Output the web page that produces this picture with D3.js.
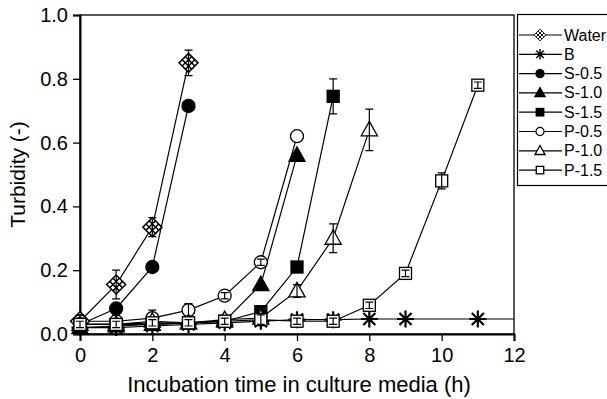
<!DOCTYPE html>
<html>
<head>
<meta charset="utf-8">
<script src="https://cdn.jsdelivr.net/npm/d3@7"></script>
<style>
  body { margin: 0; background: #fff; }
  text { font-family: "Liberation Sans", Arial, sans-serif; fill: #000; }
  .axis text { font-size: 20px; }
</style>
</head>
<body>
<svg id="chart" width="607" height="399"></svg>
<script>
// series data
const seriesNames = ['Water', 'B', 'S-0.5', 'S-1.0', 'S-1.5', 'P-0.5', 'P-1.0', 'P-1.5'];
const waterT = [0, 1, 2, 3];
const waterV = [0.04, 0.155, 0.335, 0.85];
const waterE = [0.02, 0.045, 0.03, 0.04];
const bT = [0, 1, 2, 3, 4, 5, 6, 7, 8, 9, 11, 12];
const bV = [0.02, 0.02, 0.025, 0.03, 0.035, 0.04, 0.045, 0.045, 0.047, 0.047, 0.047, 0.047];
const s05T = [0, 1, 2, 3];
const s05V = [0.03, 0.08, 0.21, 0.715];
const s10T = [0, 1, 2, 3, 4, 5, 6];
const s10V = [0.02, 0.025, 0.03, 0.035, 0.04, 0.155, 0.56];
const s15T = [0, 1, 2, 3, 4, 5, 6, 7];
const s15V = [0.03, 0.03, 0.03, 0.035, 0.04, 0.07, 0.21, 0.745];
const s15E = [0, 0, 0, 0, 0, 0.01, 0, 0.055];
const p05T = [0, 1, 2, 3, 4, 5, 6];
const p05V = [0.04, 0.04, 0.05, 0.075, 0.12, 0.225, 0.62];
const p05E = [0.01, 0.02, 0.025, 0.02, 0.01, 0.01, 0];
const p10T = [0, 1, 2, 3, 4, 5, 6, 7, 8];
const p10V = [0.03, 0.03, 0.04, 0.035, 0.045, 0.05, 0.135, 0.30, 0.64];
const p10E = [0.01, 0.01, 0.01, 0.01, 0.01, 0.015, 0.02, 0.045, 0.065];
const p15T = [0, 1, 2, 3, 4, 5, 6, 7, 8, 9, 10, 11];
const p15V = [0.03, 0.03, 0.035, 0.035, 0.04, 0.045, 0.04, 0.04, 0.09, 0.19, 0.48, 0.78];
const p15E = [0.01, 0.01, 0.01, 0.01, 0.01, 0.015, 0.01, 0.01, 0.01, 0.01, 0.025, 0.01];
const xTicks = [0, 2, 4, 6, 8, 10, 12];
const yTicks = [0.0, 0.2, 0.4, 0.6, 0.8, 1.0];

const svg = d3.select('#chart');
const margin = { left: 80, right: 93, top: 15, bottom: 65 };
const W = 607, H = 399;

const x = d3.scaleLinear().domain([0, 12]).range([margin.left, W - margin.right]);
const y = d3.scaleLinear().domain([0, 1]).range([H - margin.bottom, margin.top]);

function pack(t, v, e) {
  return t.map(function (d, i) { return { t: d, v: v[i], e: e ? e[i] : 0 }; });
}

const series = [
  { name: 'Water', marker: 'water', pts: pack(waterT, waterV, waterE) },
  { name: 'B', marker: 'star', pts: pack(bT, bV) },
  { name: 'S-0.5', marker: 'circle', fill: true, pts: pack(s05T, s05V) },
  { name: 'S-1.0', marker: 'triangle', fill: true, pts: pack(s10T, s10V) },
  { name: 'S-1.5', marker: 'square', fill: true, pts: pack(s15T, s15V, s15E) },
  { name: 'P-0.5', marker: 'circle', fill: false, pts: pack(p05T, p05V, p05E) },
  { name: 'P-1.0', marker: 'triangle', fill: false, pts: pack(p10T, p10V, p10E) },
  { name: 'P-1.5', marker: 'square', fill: false, pts: pack(p15T, p15V, p15E) }
];

// draw a marker shape into group g, scale k
function drawMarker(g, s, k) {
  const fill = s.fill ? '#000' : '#fff';
  if (s.marker === 'circle') {
    g.append('circle').attr('r', 6.5 * k).attr('fill', fill).attr('stroke', '#000').attr('stroke-width', 1.3);
  } else if (s.marker === 'triangle') {
    const r = 8.5 * k;
    g.append('path').attr('d', 'M0,' + (-r) + 'L' + (r * 0.95) + ',' + (r * 0.7) + 'L' + (-r * 0.95) + ',' + (r * 0.7) + 'Z')
      .attr('fill', fill).attr('stroke', '#000').attr('stroke-width', 1.3);
  } else if (s.marker === 'square') {
    const h = 6 * k;
    g.append('rect').attr('x', -h).attr('y', -h).attr('width', 2 * h).attr('height', 2 * h)
      .attr('fill', fill).attr('stroke', '#000').attr('stroke-width', 1.3);
  } else if (s.marker === 'star') {
    const r = 8.5 * k;
    let d = '';
    [0, 45, 90, 135].forEach(function (a) {
      const c = Math.cos(a * Math.PI / 180) * r, sn = Math.sin(a * Math.PI / 180) * r;
      d += 'M' + (-c) + ',' + (-sn) + 'L' + c + ',' + sn;
    });
    g.append('path').attr('d', d).attr('stroke', '#000').attr('stroke-width', 2.2 * k);
  } else if (s.marker === 'water') {
    // diamond split into a 3x3 lattice
    const r = 9.5 * k;
    const o = r / 6, h = r / 2;
    let d = 'M0,' + (-r) + 'L' + r + ',0L0,' + r + 'L' + (-r) + ',0Z';
    [-o, o].forEach(function (q) {
      d += 'M' + (-h + q) + ',' + (-h - q) + 'L' + (h + q) + ',' + (h - q);
      d += 'M' + (-h + q) + ',' + (h + q) + 'L' + (h + q) + ',' + (-h + q);
    });
    g.append('path').attr('d', d).attr('fill', '#fff').attr('stroke', '#000').attr('stroke-width', 1.5 * k);
  }
}

// frame
svg.append('rect').attr('x', x(0)).attr('y', y(1)).attr('width', x(12) - x(0)).attr('height', y(0) - y(1))
  .attr('fill', 'none').attr('stroke', '#000').attr('stroke-width', 1.3);

// axes
const xAxis = svg.append('g').attr('class', 'axis').attr('transform', 'translate(0,' + y(0) + ')')
  .call(d3.axisBottom(x).tickValues(xTicks).tickSize(7).tickPadding(7).tickFormat(d3.format('d')));
const yAxis = svg.append('g').attr('class', 'axis').attr('transform', 'translate(' + x(0) + ',0)')
  .call(d3.axisLeft(y).tickValues(yTicks).tickSize(7).tickPadding(5).tickFormat(d3.format('.1f')));
[xAxis, yAxis].forEach(function (a) {
  a.attr('font-size', 20).attr('font-family', null);
  a.select('.domain').attr('stroke-width', 2);
  a.selectAll('.tick line').attr('stroke-width', 1.3);
});

svg.append('text').attr('x', (x(0) + x(12)) / 2 + 2).attr('y', 392).attr('text-anchor', 'middle')
  .style('font-size', '22px').text('Incubation time in culture media (h)');
svg.append('text').attr('transform', 'translate(25,' + ((y(0) + y(1)) / 2) + ')rotate(-90)')
  .attr('text-anchor', 'middle').style('font-size', '21px').text('Turbidity (-)');

const line = d3.line().x(function (d) { return x(d.t); }).y(function (d) { return y(d.v); });
const plot = svg.append('g');

// lines
series.forEach(function (s) {
  plot.append('path').datum(s.pts).attr('d', line).attr('fill', 'none').attr('stroke', '#000').attr('stroke-width', 1.2);
});

// markers and error bars
series.forEach(function (s) {
  s.pts.forEach(function (p) {
    if (p.t >= 12) return;
    const g = plot.append('g').attr('transform', 'translate(' + x(p.t) + ',' + y(p.v) + ')');
    drawMarker(g, s, 1);
    if (p.e > 0) {
      const top = y(p.v + p.e) - y(p.v), bot = y(p.v - p.e) - y(p.v);
      g.append('path').attr('d', 'M0,' + top + 'L0,' + bot + 'M-4,' + top + 'L4,' + top + 'M-4,' + bot + 'L4,' + bot)
        .attr('stroke', '#000').attr('stroke-width', 1.2).attr('fill', 'none');
    }
  });
});

// legend
const lg = svg.append('g');
lg.append('rect').attr('x', 517.5).attr('y', 14.5).attr('width', 110).attr('height', 171)
  .attr('fill', '#fff').attr('stroke', '#000').attr('stroke-width', 1.2);
series.forEach(function (s, i) {
  const yy = 35 + i * 19.3;
  lg.append('line').attr('x1', 519).attr('x2', 562).attr('y1', yy).attr('y2', yy).attr('stroke', '#000').attr('stroke-width', 1.2);
  const g = lg.append('g').attr('transform', 'translate(540,' + yy + ')');
  drawMarker(g, s, 0.62);
  lg.append('text').attr('x', 564).attr('y', yy + 5.5).style('font-size', '16px').text(s.name);
});
</script>
</body>
</html>
